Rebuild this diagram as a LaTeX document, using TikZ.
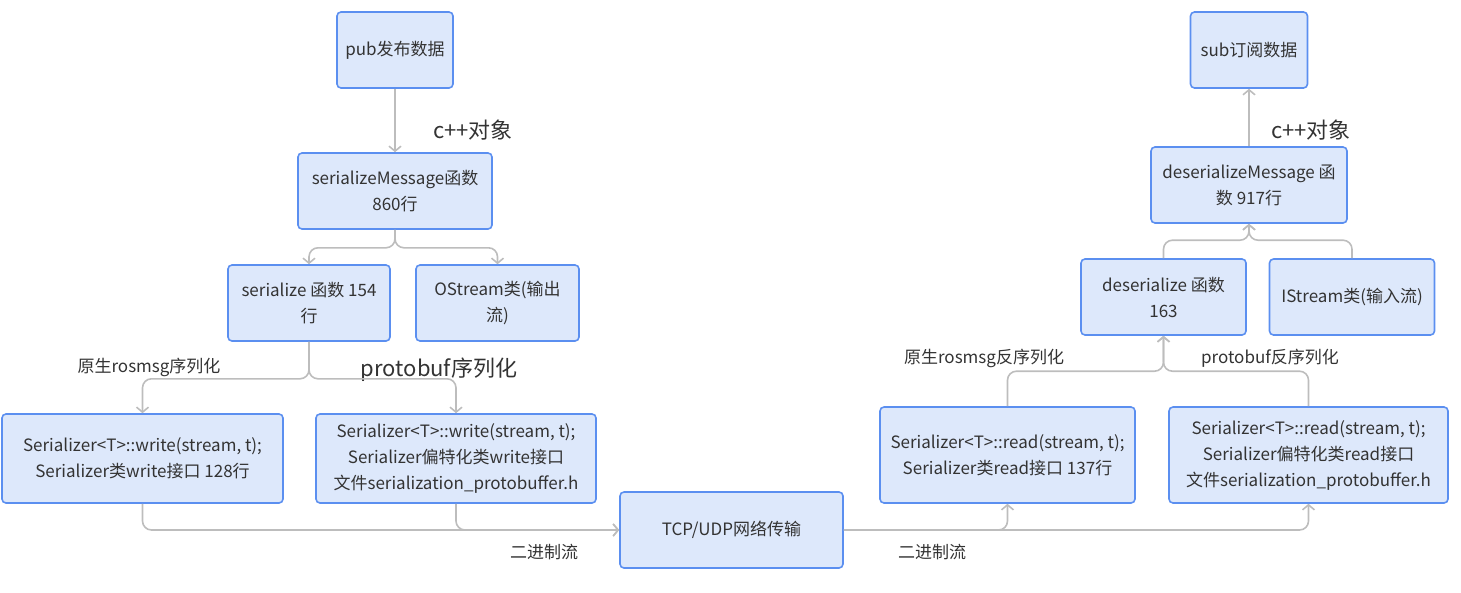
\documentclass[tikz,border=0pt]{standalone}
\usepackage{fontspec}
\setmainfont{Noto Sans CJK SC}
\usetikzlibrary{arrows.meta}
\definecolor{boxfill}{HTML}{DDE8FB}
\definecolor{boxline}{HTML}{5B8FF0}
\definecolor{connc}{HTML}{BDBDBD}
\definecolor{txt}{HTML}{333333}
\begin{document}
\begin{tikzpicture}[x=1pt,y=-1pt,
  box/.style={draw=boxline, fill=boxfill, line width=1.6pt, rounded corners=4pt,
    align=center, font=\fontsize{17}{26}\selectfont, text=txt, inner sep=0pt},
  conn/.style={draw=connc, line width=1.6pt, rounded corners=9pt,
    -{Straight Barb[length=5pt,width=12pt]}},
  lbl/.style={font=\fontsize{17}{20}\selectfont, text=txt, inner sep=0pt},
  lblbig/.style={font=\fontsize{22}{26}\selectfont, text=txt, inner sep=0pt}]
\useasboundingbox (0,0) rectangle (1461,592);

% left side boxes
\node[box, minimum width=116, minimum height=76] (pub) at (395,50) {pub发布数据};
\node[box, minimum width=194, minimum height=76] (sm) at (395,191) {serializeMessage函数\\860行};
\node[box, minimum width=162, minimum height=76] (se) at (309,303) {serialize 函数 154\\行};
\node[box, minimum width=163, minimum height=76] (os) at (497.5,303) {OStream类(输出\\流)};
\node[box, minimum width=281, minimum height=89] (wl) at (142.5,458.5) {Serializer<T>::write(stream, t);\\Serializer类write接口 128行};
\node[box, minimum width=280, minimum height=89] (wr) at (456,458.5) {Serializer<T>::write(stream, t);\\Serializer偏特化类write接口\\文件serialization\_protobuffer.h};
\node[box, minimum width=223, minimum height=76] (tcp) at (731.5,530) {TCP/UDP网络传输};

% right side boxes
\node[box, minimum width=255, minimum height=96] (rl) at (1007.5,455) {Serializer<T>::read(stream, t);\\Serializer类read接口 137行};
\node[box, minimum width=279, minimum height=96] (rr) at (1308.5,455) {Serializer<T>::read(stream, t);\\Serializer偏特化类read接口\\文件serialization\_protobuffer.h};
\node[box, minimum width=165, minimum height=76] (ds) at (1163.5,297) {deserialize 函数\\163};
\node[box, minimum width=165, minimum height=76] (is) at (1352,297) {IStream类(输入流)};
\node[box, minimum width=196, minimum height=76] (dm) at (1249,185) {deserializeMessage 函\\数 917行};
\node[box, minimum width=117, minimum height=76] (sub) at (1249,50) {sub订阅数据};

% labels
\node[lblbig] (c1) at (473,130) {c++对象};
\node[lbl] (l1) at (149,367) {原生rosmsg序列化};
\node[lblbig] (l2) at (439,370) {protobuf序列化};
\node[lbl] (b1) at (544,552) {二进制流};
\node[lbl] (b2) at (932,552) {二进制流};
\node[lblbig] (c2) at (1311,130) {c++对象};
\node[lbl] (l3) at (984,358) {原生rosmsg反序列化};
\node[lbl] (l4) at (1270,358) {protobuf反序列化};

% connectors left
\draw[conn] (pub.south) -- (sm.north);
\draw[conn] (sm.south) -- ++(0,18) -| (se.north);
\draw[conn] (sm.south) -- ++(0,18) -| (os.north);
\draw[conn] (se.south) -- ++(0,37) -| (wl.north);
\draw[conn] (se.south) -- ++(0,37) -| (wr.north);
\draw[conn] (wl.south) |- (tcp.west);
\draw[conn] (wr.south) |- (tcp.west);
% connectors right
\draw[conn] (tcp.east) -| (rl.south);
\draw[conn] (tcp.east) -| (rr.south);
\draw[conn] (rl.north) -- ++(0,-35) -| (ds.south);
\draw[conn] (rr.north) -- ++(0,-35) -| (ds.south);
\draw[conn] (ds.north) -- ++(0,-18) -| (dm.south);
\draw[conn] (is.north) -- ++(0,-18) -| (dm.south);
\draw[conn] (dm.north) -- (sub.south);
\end{tikzpicture}
\end{document}
